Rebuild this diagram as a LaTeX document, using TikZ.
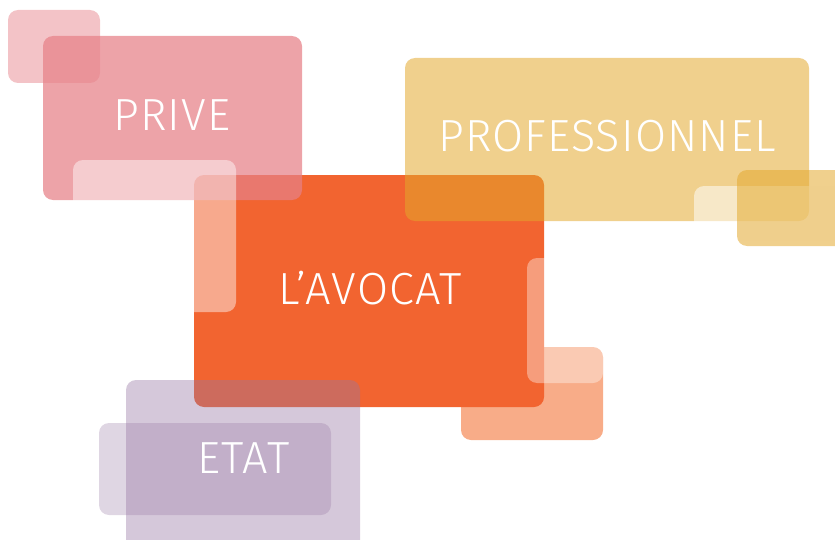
\documentclass[tikz,border=0pt]{standalone}
\usepackage{fontspec}
\setmainfont{Fira Sans Light}[LetterSpace=2.5]
\usepackage{xcolor}
\definecolor{avocat}{RGB}{242,100,48}
\definecolor{peche}{RGB}{248,172,136}
\definecolor{rose}{RGB}{230,128,135}
\definecolor{ocre}{RGB}{227,168,44}
\definecolor{mauve}{RGB}{150,118,162}

\begin{document}
\begin{tikzpicture}[x=0.5pt,y=-0.5pt,tile/.style={rounded corners=5pt},
  label/.style={text=white,inner sep=0pt,font=\fontsize{22.5}{24}\selectfont}]
  \clip (0,0) rectangle (835,540);
  % orange centre
  \fill[tile,peche] (461,347) rectangle (603,440);
  \fill[tile,avocat] (194,175) rectangle (544,407);
  % prive
  \fill[tile,rose,fill opacity=0.72] (43,36) rectangle (302,200);
  \fill[tile,rose,fill opacity=0.47] (8,10) rectangle (100,83);
  \fill[tile,white,fill opacity=0.45] (73,160) rectangle (236,312);
  \fill[tile,white,fill opacity=0.37] (527,258) rectangle (603,383);
  % professionnel
  \fill[tile,ocre,fill opacity=0.54] (405,58) rectangle (809,221);
  \fill[tile,white,fill opacity=0.52] (694,186) rectangle (860,240);
  \fill[tile,ocre,fill opacity=0.54] (737,170) rectangle (860,246);
  % etat
  \fill[tile,mauve,fill opacity=0.4] (126,380) rectangle (360,560);
  \fill[tile,mauve,fill opacity=0.3] (99,423) rectangle (331,515);

  \node[label] (prive) at (172,115) {PRIVE};
  \node[label] (avocat) at (370,288) {L’AVOCAT};
  \node[label] (pro) at (607,136) {PROFESSIONNEL};
  \node[label] (etat) at (243.5,458) {ETAT};
\end{tikzpicture}
\end{document}
